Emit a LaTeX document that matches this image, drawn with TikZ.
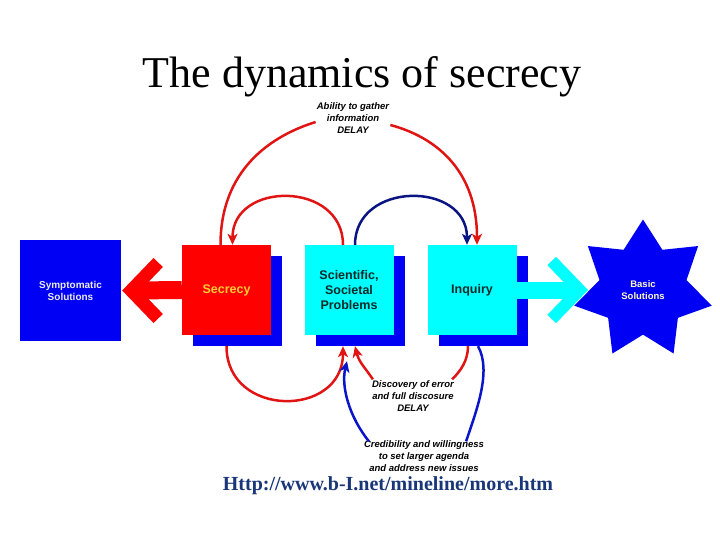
\documentclass[tikz,border=0pt]{standalone}
\usepackage{fontspec}
\setmainfont{Liberation Serif}
\setsansfont{Liberation Sans}
\usepackage{xcolor}
\usetikzlibrary{shapes.geometric, shadows, arrows.meta}
\definecolor{boxblue}{RGB}{0,0,245}
\definecolor{boxred}{RGB}{255,0,0}
\definecolor{boxcyan}{RGB}{0,255,255}
\definecolor{loopred}{RGB}{225,20,20}
\definecolor{loopnavy}{RGB}{10,20,130}
\definecolor{loopblue}{RGB}{10,20,200}
\definecolor{goldtext}{RGB}{255,204,51}
\definecolor{darktext}{RGB}{15,40,40}
\definecolor{urlblue}{RGB}{25,55,120}
\begin{document}
\begin{tikzpicture}[x=1pt, y=-1pt,
    mainbox/.style={draw=none, minimum width=89pt, minimum height=90pt, inner sep=0pt,
      align=center, font=\sffamily\bfseries\fontsize{12.5}{15}\selectfont,
      drop shadow={shadow xshift=11pt, shadow yshift=-11pt, fill=boxblue, opacity=1}},
    labeltext/.style={align=center, inner sep=1pt, font=\sffamily\bfseries\itshape\fontsize{9.5}{12}\selectfont},
    loop/.style={line width=2.5pt, -{Stealth[length=11pt, width=10pt, inset=3pt]}},
    part/.style={line width=2.5pt}]
      \useasboundingbox (0,0) rectangle (720,540);

      % Title and source
      \node[anchor=base, font=\fontsize{44}{44}\selectfont] (title) at (362,88) {The dynamics of secrecy};
      \node[anchor=base, text=urlblue, font=\bfseries\fontsize{20}{20}\selectfont] (url) at (388,490) {Http://www.b-I.net/mineline/more.htm};

      % Boxes
      \node[mainbox, fill=boxred, text=goldtext] (secrecy) at (226.5,290) {Secrecy};
      \node[mainbox, fill=boxcyan, text=darktext] (problems) at (349,290) {Scientific,\\Societal\\Problems};
      \node[mainbox, fill=boxcyan, text=darktext] (inquiry) at (472,290) {Inquiry};
      \node[fill=boxblue, minimum size=101pt, inner sep=0pt, align=center, text=black!8,
        font=\sffamily\bfseries\fontsize{10}{12}\selectfont] (symptomatic) at (70.5,290.5) {Symptomatic\\Solutions};
      \node[star, star points=7, star point ratio=1.58, minimum size=141pt, inner sep=0pt,
        fill=boxblue, text=yellow!25, align=center,
        font=\sffamily\bfseries\fontsize{9.5}{12}\selectfont] (basic) at (643,290) {Basic\\Solutions};

      % Broad arrows
      \draw[boxred, line width=18pt] (secrecy.west) -- ([xshift=14pt]symptomatic.east);
      \draw[boxred, line width=13pt, miter limit=3] ([shift={(37,-28)}]symptomatic.east) -- ([xshift=10pt]symptomatic.east) -- ([shift={(37,28)}]symptomatic.east);
      \draw[boxcyan, line width=17pt] (inquiry.east) -- ([xshift=60pt]inquiry.east);
      \draw[boxcyan, line width=12pt, miter limit=3] ([shift={(35,-29)}]inquiry.east) -- ([xshift=63pt]inquiry.east) -- ([shift={(35,29)}]inquiry.east);

      % Loop labels
      \node[labeltext] (gather) at (353,118) {Ability to gather\\information\\DELAY};
      \node[labeltext] (discovery) at (413,396) {Discovery of error\\and full discosure\\DELAY};
      \node[labeltext] (credibility) at (424,456) {Credibility and willingness\\to set larger agenda\\and address new issues};

      % Loops above the boxes
      \draw[part, loopred] ([xshift=-6pt]secrecy.north) .. controls +(0,-75) and +(-45,14) .. ([yshift=-4pt]gather.west);
      \draw[loop, loopred] ([yshift=-7pt]gather.east) .. controls +(45,12) and +(0,-75) .. ([xshift=5pt]inquiry.north);
      \draw[loop, loopred] ([xshift=-6pt]problems.north) .. controls +(0,-64) and +(0,-64) .. ([xshift=6pt]secrecy.north);
      \draw[loop, loopnavy] ([xshift=6pt]problems.north) .. controls +(0,-64) and +(0,-64) .. ([xshift=-5pt]inquiry.north);

      % Loops below the boxes
      \draw[loop, loopred] ([yshift=-11pt]secrecy.south) .. controls +(0,72) and +(0,72) .. ([xshift=-6pt, yshift=-11pt]problems.south);
      \draw[part, loopred] ([xshift=-4pt, yshift=-11pt]inquiry.south) .. controls +(0,15) and +(8,-8) .. ([xshift=-3pt]discovery.north east);
      \draw[loop, loopred] ([xshift=2pt]discovery.north west) .. controls +(-8,-12) and +(4,16) .. ([xshift=6pt, yshift=-11pt]problems.south);
      \draw[part, loopblue] ([xshift=6pt, yshift=-11pt]inquiry.south) .. controls +(14,25) and +(10,-30) .. ([xshift=-19pt, yshift=-2pt]credibility.north east);
      \draw[loop, loopblue] ([xshift=6pt, yshift=-2pt]credibility.north west) .. controls +(-20,-25) and +(-6,25) .. ([xshift=-2pt, yshift=-26pt]problems.south);
\end{tikzpicture}
\end{document}
